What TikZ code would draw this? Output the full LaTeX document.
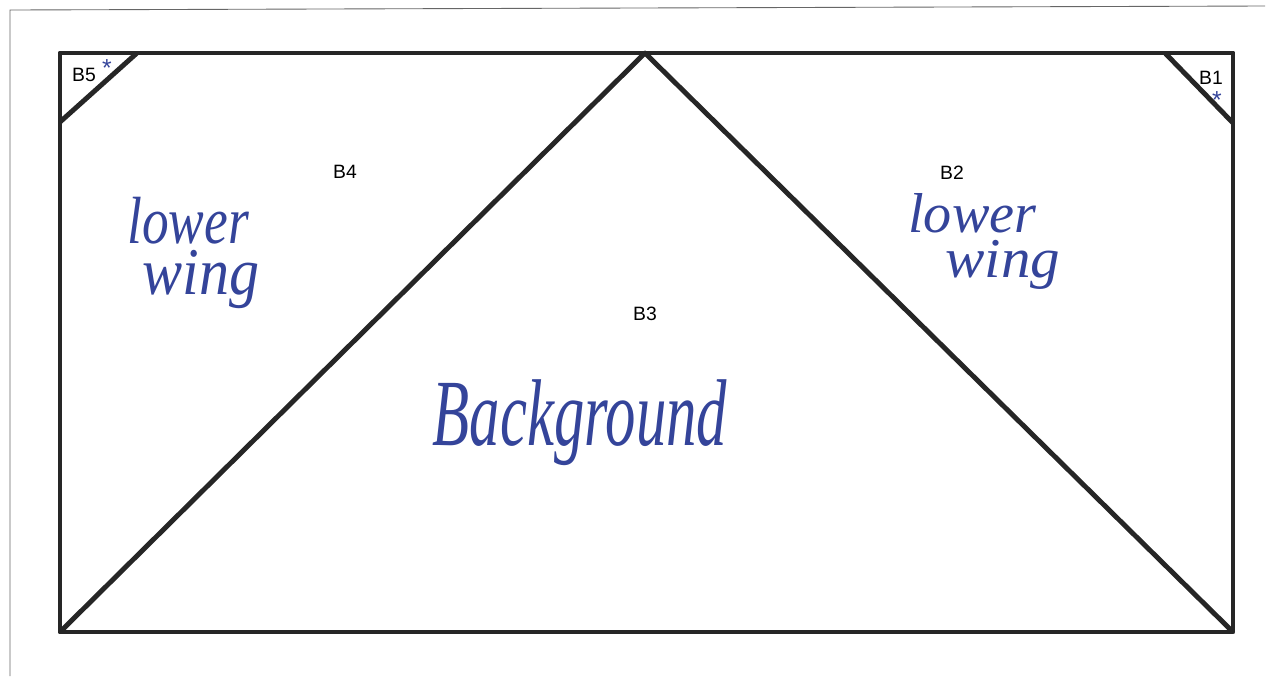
\documentclass[tikz,border=0pt]{standalone}
\usepackage{fontspec}
\setmainfont{Liberation Sans}
\newfontfamily\handfont{Liberation Serif}
\definecolor{ink}{HTML}{34449A}
\begin{document}
\begin{tikzpicture}[x=0.02cm,y=-0.02cm,
  edge/.style={line width=2.8pt,draw=black!85,line join=round},
  blabel/.style={font=\fontsize{11}{13}\selectfont,inner sep=0pt},
  hand/.style={text=ink,font=\handfont\itshape,inner sep=0pt},
  starmark/.style={text=ink,font=\fontsize{14}{14}\selectfont,inner sep=0pt}]
\useasboundingbox (0,0) rectangle (1269,677);
\draw[black!60,line width=0.5pt] (10,676) -- (10,10) -- (1265,6);
% corners
\coordinate (TL) at (60,53);
\coordinate (TR) at (1233,53);
\coordinate (BR) at (1233,632);
\coordinate (BL) at (60,632);
\coordinate (apex) at (645,53);
\coordinate (b5t) at (137,53);
\coordinate (b5l) at (60,122);
\coordinate (b1t) at (1165,53);
\coordinate (b1r) at (1233,123);
\draw[edge] (TL) -- (TR) -- (BR) -- (BL) -- cycle;
\draw[edge] (BL) -- (apex) -- (BR);
\draw[edge] (b5t) -- (b5l);
\draw[edge] (b1t) -- (b1r);
% labels
\node[blabel] (B5) at (84,75) {B5};
\node[blabel] (B1) at (1211,78) {B1};
\node[blabel] (B4) at (345,172) {B4};
\node[blabel] (B2) at (952,173) {B2};
\node[blabel] (B3) at (645,314) {B3};
\node[starmark] (s5) at (107,68) {*};
\node[starmark] (s1) at (1217,100) {*};
% handwriting
\node[hand,anchor=base west] (lw1) at (127,243) {\fontsize{38}{40}\selectfont
  \makebox[0pt][l]{\scalebox{0.8}[1]{lower}}\raisebox{-1.04cm}{\hspace*{0.3cm}\scalebox{0.9}[1]{wing}}};
\node[hand,anchor=base west] (lw2) at (908,232) {\fontsize{32}{34}\selectfont
  \makebox[0pt][l]{lower}\raisebox{-0.92cm}{\hspace*{0.74cm}\scalebox{1.05}[1]{wing}}};
\node[hand,anchor=base] (bg) at (580,445) {\fontsize{54}{56}\selectfont\scalebox{0.64}[1]{Background}};
\end{tikzpicture}
\end{document}
